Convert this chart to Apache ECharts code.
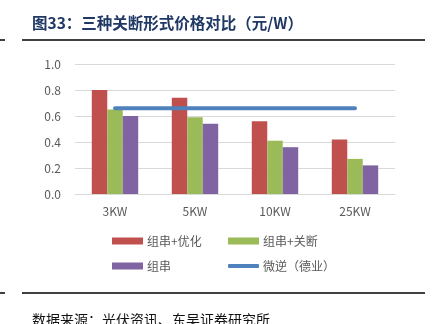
<!DOCTYPE html>
<html><head><meta charset="utf-8">
<script src="https://cdn.jsdelivr.net/npm/echarts@6/dist/echarts.min.js"></script>
<style>html,body{margin:0;padding:0;background:#fff}#c{width:439px;height:324px}</style>
</head><body><div id="c"></div>
<script>
const categories = ['3KW', '5KW', '10KW', '25KW'];
const stringOpt = [0.80, 0.74, 0.56, 0.42];
const stringRsd = [0.65, 0.59, 0.41, 0.27];
const stringOnly = [0.60, 0.54, 0.36, 0.22];
const microInv = [0.66, 0.66, 0.66, 0.66];
const seriesNames = ['组串+优化', '组串+关断', '组串', '微逆（德业）'];
const colors = ['#c0504d', '#9bbb59', '#8064a2', '#4f81bd'];

const chart = echarts.init(document.getElementById('c'), null, {renderer: 'canvas'});
const font = '"Noto Sans CJK SC", "Noto Sans", sans-serif';
function leg(name, left, top, isLine) {
  return {
    data: [{name: name, icon: isLine ? 'roundRect' : 'rect'}],
    left: left, top: top, itemWidth: 31, itemHeight: isLine ? 4 : 7, itemGap: 0,
    padding: 0, selectedMode: false,
    textStyle: {color: '#595959', fontSize: 12, fontFamily: font, padding: [0, 0, 0, -1]}
  };
}
chart.setOption({
  animation: false,
  color: colors,
  title: {
    text: '图33：三种关断形式价格对比（元/W）',
    left: 32, top: 15, padding: 0,
    textStyle: {fontSize: 15.5, fontWeight: 'bold', color: '#1f3864', fontFamily: font}
  },
  legend: [
    leg(seriesNames[0], 112, 235, false),
    leg(seriesNames[1], 228, 235, false),
    leg(seriesNames[2], 112, 260, false),
    leg(seriesNames[3], 228, 260, true)
  ],
  grid: {left: 75, right: 44, top: 64, bottom: 130},
  xAxis: {
    type: 'category', data: categories,
    axisLine: {lineStyle: {color: '#d9d9d9', width: 1}},
    axisTick: {show: false},
    axisLabel: {color: '#595959', fontSize: 12, fontFamily: font, margin: 11}
  },
  yAxis: {
    type: 'value', min: 0, max: 1, interval: 0.2,
    axisLine: {show: false}, axisTick: {show: false},
    splitLine: {lineStyle: {color: '#d9d9d9', width: 1}},
    axisLabel: {color: '#595959', fontSize: 12, fontFamily: font, margin: 14,
      formatter: v => v.toFixed(1)}
  },
  series: [
    {name: seriesNames[0], type: 'bar', data: stringOpt, barGap: '0%', barCategoryGap: '42%',
      itemStyle: {color: colors[0]}},
    {name: seriesNames[1], type: 'bar', data: stringRsd, itemStyle: {color: colors[1]}},
    {name: seriesNames[2], type: 'bar', data: stringOnly, itemStyle: {color: colors[2]}},
    {name: seriesNames[3], type: 'line', data: microInv, symbol: 'none', z: 5,
      lineStyle: {color: colors[3], width: 4, cap: 'round'}, itemStyle: {color: colors[3]}}
  ],
  graphic: [
    {type: 'line', shape: {x1: 22, y1: 40, x2: 425, y2: 40}, style: {stroke: '#000', lineWidth: 1.5}},
    {type: 'line', shape: {x1: 0, y1: 40, x2: 5, y2: 40}, style: {stroke: '#000', lineWidth: 1.5}},
    {type: 'line', shape: {x1: 22, y1: 293, x2: 425, y2: 293}, style: {stroke: '#000', lineWidth: 1.5}},
    {type: 'line', shape: {x1: 0, y1: 293, x2: 5, y2: 293}, style: {stroke: '#000', lineWidth: 1.5}},
    {type: 'text', left: 32, top: 313, style: {text: '数据来源：光伏资讯、东吴证券研究所', fill: '#111',
      font: '14px ' + font}}
  ]
});
</script></body></html>
